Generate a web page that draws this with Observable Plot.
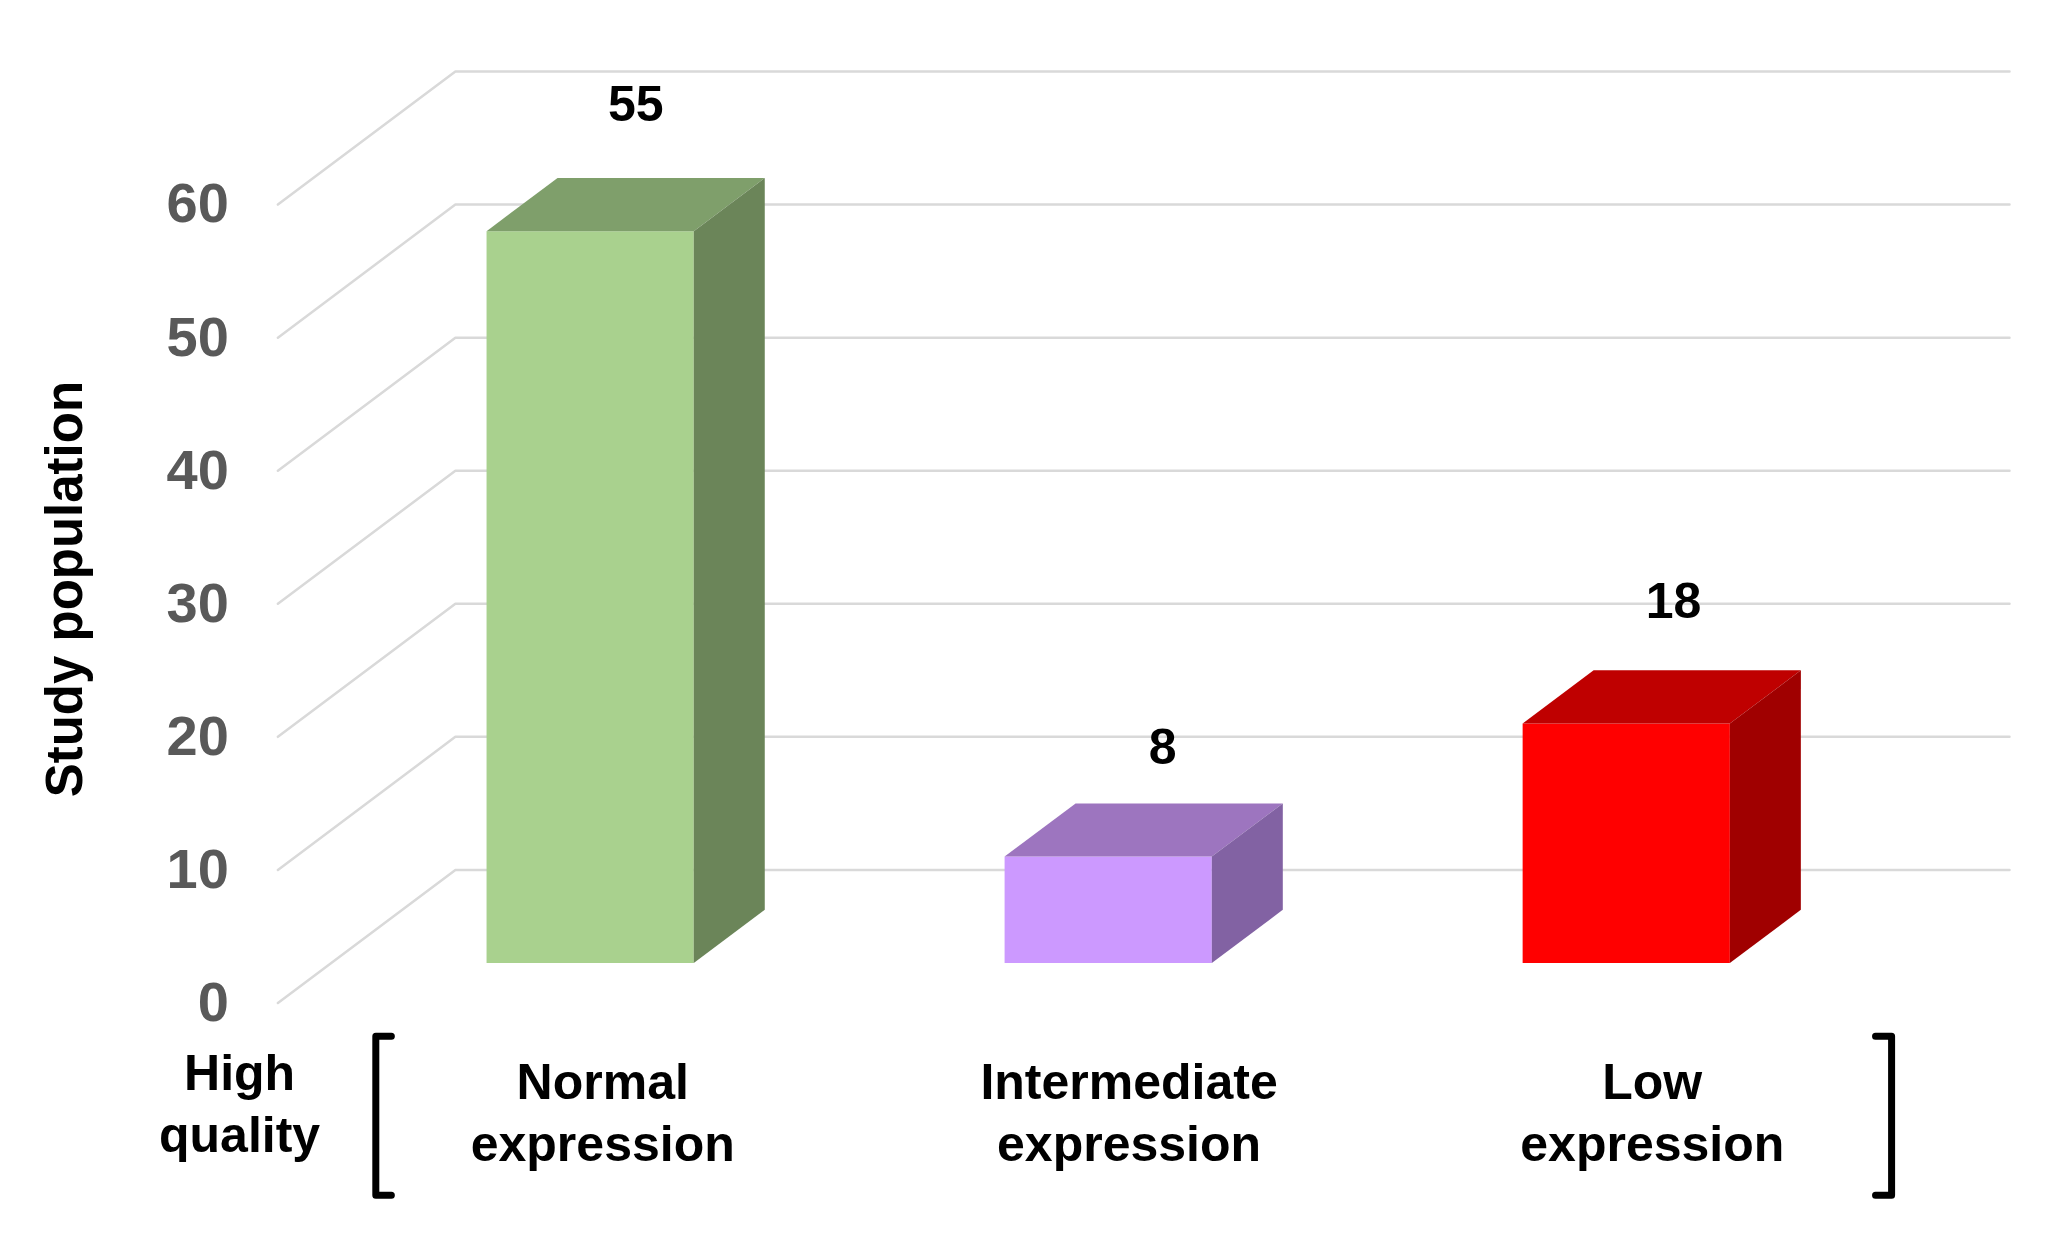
<!DOCTYPE html>
<html>
<head>
<meta charset="utf-8">
<style>html,body{margin:0;padding:0;background:#fff}svg{display:block;filter:blur(0.5px)}</style>
<script src="https://cdn.jsdelivr.net/npm/d3@7"></script>
<script src="https://cdn.jsdelivr.net/npm/@observablehq/plot@0.6"></script>
</head>
<body>
<div id="chart"></div>
<script>
const categories = ["Normal\nexpression", "Intermediate\nexpression", "Low\nexpression"];
const values = [55, 8, 18];
const frontColors = ["#A9D18E", "#CC99FF", "#FF0000"];
const topColors = ["#7F9F6B", "#9D75BF", "#BF0000"];
const sideColors = ["#6B8559", "#8262A3", "#A00000"];
const yTicks = [0, 10, 20, 30, 40, 50, 60];
const valueLabelX = [0.191, 1.208, 2.194];
const valueLabelY = [67.5, 19.2, 30.1];
const categoryLabelX = [0.127, 1.143, 2.153];
const categoryLabelY = -8.05;
const groupLabel = "High\nquality";

// Oblique chart box: depth 0 is the front, depth 1 is the back wall.
const depthX = 0.3426, depthY = 10, barHalf = 0.2, barFront = 0.3, barBack = 0.7;
const left = -0.5, right = 2.5;
const project = (x, v, d) => ({px: x + d * depthX, py: v + d * depthY});

const gridRows = yTicks.flatMap(v => [
  {...project(left, v, 0), v},
  {...project(left, v, 1), v},
  {...project(right, v, 1), v}
]);

function face(i, corners) {
  return corners.map(([x, v, d]) => project(i + x * barHalf, v, d));
}
const faces = values.flatMap((val, i) => [
  {rows: face(i, [[-1, 0, barFront], [1, 0, barFront], [1, val, barFront], [-1, val, barFront]]), fill: frontColors[i]},
  {rows: face(i, [[-1, val, barFront], [1, val, barFront], [1, val, barBack], [-1, val, barBack]]), fill: topColors[i]},
  {rows: face(i, [[1, 0, barFront], [1, 0, barBack], [1, val, barBack], [1, val, barFront]]), fill: sideColors[i]}
]);

const bracketLeft = [[-0.281, -2.5], [-0.311, -2.5], [-0.311, -14.45], [-0.281, -14.45]];
const bracketRight = [[2.584, -2.5], [2.615, -2.5], [2.615, -14.45], [2.584, -14.45]];
const font = "Liberation Sans, Arial, sans-serif";

const chart = Plot.plot({
  width: 2059,
  height: 1244,
  marginLeft: 277.4,
  marginRight: 50,
  marginTop: 71,
  marginBottom: 241.5,
  style: {fontFamily: font, background: "#fff"},
  x: {domain: [left, right + depthX], axis: null},
  y: {domain: [0, 60 + depthY], axis: null},
  marks: [
    Plot.line(gridRows, {x: "px", y: "py", z: "v", stroke: "#D9D9D9", strokeWidth: 2.5}),
    ...faces.map(f => Plot.line(f.rows, {x: "px", y: "py", fill: f.fill, stroke: "none"})),
    Plot.axisY({ticks: yTicks, anchor: "left", tickSize: 0, tickPadding: 49, fontSize: 56, fontWeight: 700, color: "#595959", label: null}),
    Plot.text(values, {x: (d, i) => valueLabelX[i], y: (d, i) => valueLabelY[i], text: d => String(d), fontSize: 50, fontWeight: 700, fill: "#000"}),
    Plot.text(categories, {x: (d, i) => categoryLabelX[i], y: () => categoryLabelY, text: d => d, fontSize: 50, fontWeight: 700, fill: "#000", lineHeight: 1.23}),
    Plot.text([groupLabel], {x: () => -0.574, y: () => -7.4, text: d => d, fontSize: 50, fontWeight: 700, fill: "#000", lineHeight: 1.23}),
    Plot.text(["Study population"], {x: () => -0.91, y: () => 31.1, text: d => d, rotate: -90, fontSize: 51, fontWeight: 700, fill: "#000"}),
    Plot.line(bracketLeft, {x: d => d[0], y: d => d[1], stroke: "#000", strokeWidth: 7}),
    Plot.line(bracketRight, {x: d => d[0], y: d => d[1], stroke: "#000", strokeWidth: 7})
  ]
});
document.getElementById("chart").appendChild(chart);
</script>
</body>
</html>
